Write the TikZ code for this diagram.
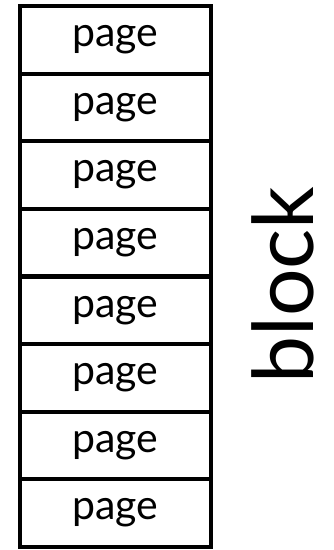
\documentclass[tikz,border=0pt]{standalone}
\usepackage{fontspec}
\setmainfont{Lato}
\begin{document}
\begin{tikzpicture}[x=1pt,y=-1pt,
  pagebox/.style={draw=black,line width=4.2pt,minimum width=191pt,minimum height=67.6pt,
    inner sep=0pt,outer sep=0pt,font=\fontsize{41}{41}\selectfont},
  blocklabel/.style={rotate=90,inner sep=0pt,font=\fontsize{84}{84}\selectfont}]
  \useasboundingbox (0,0) rectangle (334,550);
  % stack of eight pages forming one block
  \foreach \i in {1,...,8} {
    \node[pagebox] (p\i) at (115.5,{6+67.6*(\i-0.5)}) {page};
  }
  \node[blocklabel,anchor=base] (blk) at (313,285) {block};
\end{tikzpicture}
\end{document}
